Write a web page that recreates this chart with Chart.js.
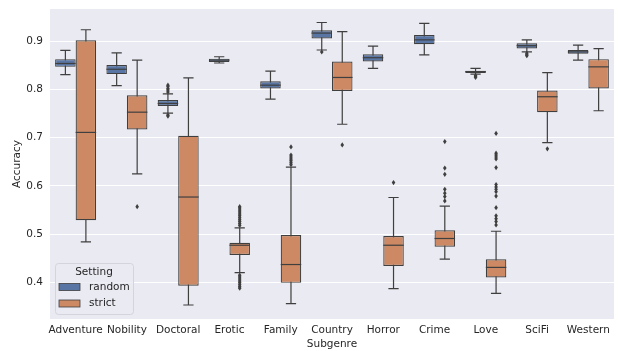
<!DOCTYPE html>
<html>
<head>
<meta charset="utf-8">
<script src="https://cdn.jsdelivr.net/npm/chart.js@4"></script>
<style>
    html, body { margin: 0; padding: 0; background: #fff; }
</style>
</head>
<body>
<canvas id="grafica" width="618" height="351"></canvas>
<script>
// categorías del eje X
const subgeneros = ['Adventure', 'Nobility', 'Doctoral', 'Erotic', 'Family', 'Country', 'Horror', 'Crime', 'Love', 'SciFi', 'Western'];
const series = ['random', 'strict'];
const yTicks = [0.4, 0.5, 0.6, 0.7, 0.8, 0.9];

// [bigote inferior, Q1, mediana, Q3, bigote superior]
const cajasRandom = [
    [0.831, 0.847, 0.854, 0.863, 0.881],
    [0.808, 0.832, 0.842, 0.851, 0.876],
    [0.751, 0.766, 0.771, 0.778, 0.791],
    [0.855, 0.857, 0.861, 0.864, 0.868],
    [0.780, 0.802, 0.809, 0.817, 0.838],
    [0.882, 0.906, 0.917, 0.923, 0.939],
    [0.844, 0.858, 0.866, 0.873, 0.890],
    [0.872, 0.894, 0.903, 0.913, 0.937],
    [0.832, 0.834, 0.837, 0.839, 0.844],
    [0.878, 0.885, 0.891, 0.896, 0.903],
    [0.861, 0.874, 0.878, 0.882, 0.892]
];
const cajasStrict = [
    [0.484, 0.529, 0.711, 0.902, 0.924],
    [0.625, 0.717, 0.753, 0.788, 0.861],
    [0.353, 0.393, 0.577, 0.704, 0.824],
    [0.420, 0.457, 0.477, 0.482, 0.513],
    [0.356, 0.399, 0.437, 0.498, 0.639],
    [0.728, 0.797, 0.825, 0.858, 0.920],
    [0.387, 0.434, 0.477, 0.496, 0.576],
    [0.448, 0.474, 0.491, 0.508, 0.558],
    [0.377, 0.410, 0.431, 0.448, 0.506],
    [0.690, 0.753, 0.785, 0.798, 0.835],
    [0.756, 0.802, 0.847, 0.863, 0.885]
];

// valores atípicos
const atipicosRandom = [
    [], [],
    [0.795, 0.799, 0.802, 0.806, 0.809, 0.747, 0.745],
    [], [],
    [0.878],
    [], [],
    [0.829, 0.827, 0.825],
    [0.875, 0.872, 0.870],
    []
];
const atipicosStrict = [
    [],
    [0.557],
    [],
    [0.518, 0.522, 0.526, 0.530, 0.534, 0.538, 0.542, 0.546, 0.550, 0.554, 0.557,
     0.415, 0.411, 0.407, 0.403, 0.399, 0.395, 0.391, 0.388],
    [0.681, 0.664, 0.660, 0.656, 0.652, 0.648, 0.644],
    [0.685],
    [0.607],
    [0.692, 0.637, 0.624, 0.593, 0.585, 0.578, 0.569],
    [0.709, 0.668, 0.664, 0.660, 0.656, 0.638, 0.603, 0.598, 0.593, 0.588, 0.579,
     0.555, 0.538, 0.532, 0.526, 0.519],
    [0.677],
    []
];

const colores = ['#5875a4', '#cc8963'];
const gris = '#3f3f3f';
const fuente = { family: 'DejaVu Sans', size: 10.5 };
const colorTexto = '#262626';

const cajas = [cajasRandom, cajasStrict];
const atipicos = [atipicosRandom, atipicosStrict];

// fondo gris del área de la gráfica
const fondo = {
    id: 'fondo',
    beforeDraw(chart) {
        const { ctx, chartArea: a } = chart;
        ctx.save();
        ctx.fillStyle = '#eaeaf2';
        ctx.fillRect(a.left, a.top, a.right - a.left, a.bottom - a.top);
        ctx.restore();
    }
};

// bigotes, medianas, atípicos y leyenda
const bigotes = {
    id: 'bigotes',
    beforeDatasetsDraw(chart) {
        const { ctx } = chart;
        const y = chart.scales.y;
        ctx.save();
        ctx.strokeStyle = gris;
        ctx.lineWidth = 1.2;
        cajas.forEach((serie, d) => {
            const meta = chart.getDatasetMeta(d);
            serie.forEach((b, i) => {
                const el = meta.data[i];
                const x = el.x, w = el.width / 2;
                ctx.beginPath();
                ctx.moveTo(x, y.getPixelForValue(b[0]));
                ctx.lineTo(x, y.getPixelForValue(b[4]));
                ctx.moveTo(x - w / 2, y.getPixelForValue(b[0]));
                ctx.lineTo(x + w / 2, y.getPixelForValue(b[0]));
                ctx.moveTo(x - w / 2, y.getPixelForValue(b[4]));
                ctx.lineTo(x + w / 2, y.getPixelForValue(b[4]));
                ctx.stroke();
            });
        });
        ctx.restore();
    },
    afterDatasetsDraw(chart) {
        const { ctx } = chart;
        const y = chart.scales.y;
        ctx.save();
        ctx.strokeStyle = gris;
        ctx.fillStyle = gris;
        ctx.lineWidth = 1.2;
        cajas.forEach((serie, d) => {
            const meta = chart.getDatasetMeta(d);
            serie.forEach((b, i) => {
                const el = meta.data[i];
                const x = el.x, w = el.width / 2;
                const ym = y.getPixelForValue(b[2]);
                ctx.beginPath();
                ctx.moveTo(x - w, ym);
                ctx.lineTo(x + w, ym);
                ctx.stroke();
                atipicos[d][i].forEach(v => {
                    const yp = y.getPixelForValue(v);
                    ctx.beginPath();
                    ctx.moveTo(x, yp - 2.6);
                    ctx.lineTo(x + 1.8, yp);
                    ctx.lineTo(x, yp + 2.6);
                    ctx.lineTo(x - 1.8, yp);
                    ctx.closePath();
                    ctx.fill();
                });
            });
        });
        ctx.restore();
    },
    afterDraw(chart) {
        const { ctx, chartArea: a } = chart;
        const lx = a.left + 5, ly = a.bottom - 56, lw = 78, lh = 51;
        ctx.save();
        ctx.fillStyle = 'rgba(234,234,242,0.8)';
        ctx.strokeStyle = '#d4d4dc';
        ctx.lineWidth = 1;
        ctx.beginPath();
        ctx.roundRect(lx + 0.5, ly + 0.5, lw, lh, 3);
        ctx.fill();
        ctx.stroke();
        ctx.font = '10.5px "DejaVu Sans"';
        ctx.fillStyle = colorTexto;
        ctx.textBaseline = 'middle';
        ctx.textAlign = 'center';
        ctx.fillText('Setting', lx + lw / 2, ly + 9);
        ctx.textAlign = 'left';
        series.forEach((s, k) => {
            const yy = ly + 24 + k * 16.5;
            ctx.fillStyle = colores[k];
            ctx.fillRect(lx + 4, yy - 3.5, 21, 7);
            ctx.strokeStyle = gris;
            ctx.lineWidth = 0.8;
            ctx.strokeRect(lx + 4, yy - 3.5, 21, 7);
            ctx.fillStyle = colorTexto;
            ctx.fillText(s, lx + 34, yy);
        });
        ctx.restore();
    }
};

const ctx = document.getElementById('grafica').getContext('2d');
new Chart(ctx, {
    type: 'bar',
    data: {
        labels: subgeneros,
        datasets: series.map((s, d) => ({
            label: s,
            data: cajas[d].map(b => [b[1], b[3]]), // caja de Q1 a Q3
            backgroundColor: colores[d],
            borderColor: gris,
            borderWidth: 1.2,
            borderSkipped: false,
            categoryPercentage: 0.8,
            barPercentage: 1.0
        }))
    },
    options: {
        responsive: false,
        animation: false,
        layout: { padding: { top: 9, right: 4, left: 0, bottom: 0 } },
        plugins: { legend: { display: false }, tooltip: { enabled: false } },
        scales: {
            x: {
                grid: { display: false, drawTicks: false },
                border: { display: false },
                ticks: { color: colorTexto, font: fuente, padding: 5, maxRotation: 0, autoSkip: false },
                title: { display: true, text: 'Subgenre', color: colorTexto, font: fuente, padding: { top: 1, bottom: 0 } },
                afterFit: s => { s.height = 32; s.paddingLeft = 0; s.paddingRight = 0; }
            },
            y: {
                min: 0.324,
                max: 0.967,
                afterBuildTicks: a => { a.ticks = yTicks.map(v => ({ value: v })); },
                grid: { color: '#ffffff', lineWidth: 1, drawTicks: false },
                border: { display: false },
                ticks: { color: colorTexto, font: fuente, padding: 7, callback: v => v.toFixed(1) },
                title: { display: true, text: 'Accuracy', color: colorTexto, font: fuente, padding: { top: 11, bottom: 0 } },
                afterFit: s => { s.width = 50; s.paddingTop = 0; s.paddingBottom = 0; }
            }
        }
    },
    plugins: [fondo, bigotes]
});
</script>
</body>
</html>
